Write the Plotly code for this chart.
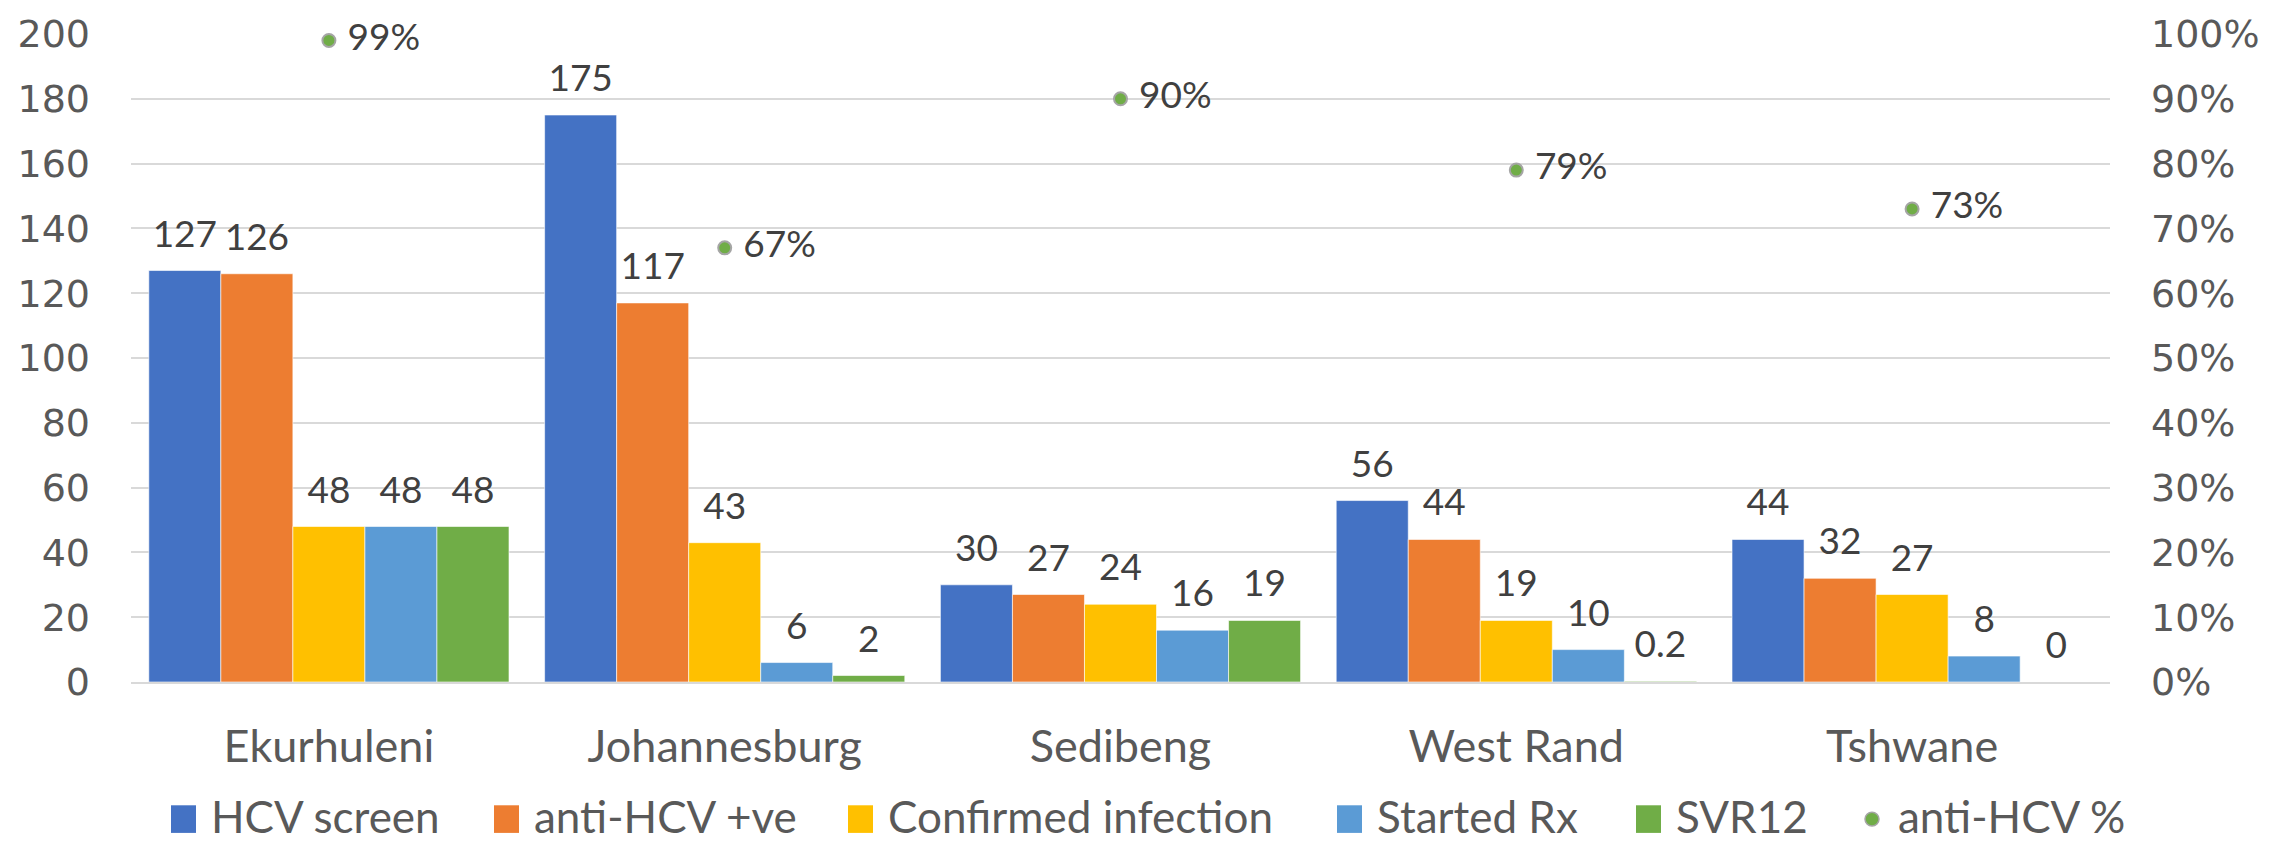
import plotly.graph_objects as go

# ---------------- data ----------------
categories = ["Ekurhuleni", "Johannesburg", "Sedibeng", "West Rand", "Tshwane"]
hcv_screen = [127, 175, 30, 56, 44]
anti_hcv_pos = [126, 117, 27, 44, 32]
confirmed_infection = [48, 43, 24, 19, 27]
started_rx = [48, 6, 16, 10, 8]
svr12 = [48, 2, 19, 0.2, 0]
anti_hcv_pct = [0.99, 0.67, 0.90, 0.79, 0.73]

bar_names = ["HCV screen", "anti-HCV +ve", "Confirmed infection", "Started Rx", "SVR12"]
pct_name = "anti-HCV %"
left_ticks = [0, 20, 40, 60, 80, 100, 120, 140, 160, 180, 200]
right_ticks = [0, 0.1, 0.2, 0.3, 0.4, 0.5, 0.6, 0.7, 0.8, 0.9, 1.0]

# ---------------- style ----------------
bar_series = [hcv_screen, anti_hcv_pos, confirmed_infection, started_rx, svr12]
bar_colors = ["#4472C4", "#ED7D31", "#FFC000", "#5B9BD5", "#70AD47"]
pct_color = "#70AD47"
W, H = 2290, 845
L, R, T, B = 131, 180, 25, 163
TEXT_FONT = "Lato, 'Open Sans', sans-serif"
TICK_FONT = "'DejaVu Sans', Verdana, sans-serif"
LABEL_GAP = 4  # spacing (axis units) between bar top and its data label

fig = go.Figure()
for i, (name, vals, col) in enumerate(zip(bar_names, bar_series, bar_colors)):
    fig.add_trace(go.Bar(
        x=categories, y=vals, name=name, offsetgroup=str(i),
        marker=dict(color=col, line=dict(color="rgba(255,255,255,0.6)", width=1)),
        showlegend=False,
    ))
    # transparent spacer carrying the data label a little above the bar
    fig.add_trace(go.Bar(
        x=categories, y=[LABEL_GAP] * len(vals), base=vals, name=name,
        offsetgroup=str(i), marker=dict(color="rgba(0,0,0,0)", line=dict(width=0)),
        text=[str(v) for v in vals], textposition="outside",
        textfont=dict(family=TEXT_FONT, size=37, color="#404040"),
        constraintext="none", cliponaxis=False, showlegend=False, hoverinfo="skip",
    ))

fig.add_trace(go.Scatter(
    x=categories, y=anti_hcv_pct, name=pct_name, yaxis="y2",
    mode="markers+text",
    marker=dict(color=pct_color, size=13, line=dict(color="#A5A5A5", width=2)),
    texttemplate=" %{y:.0%}", textposition="middle right",
    textfont=dict(family=TEXT_FONT, size=37, color="#404040"),
    cliponaxis=False, showlegend=False,
))

fig.update_layout(
    width=W, height=H,
    margin=dict(l=L, r=R, t=T, b=B),
    paper_bgcolor="white", plot_bgcolor="white",
    barmode="group", bargap=0.09, bargroupgap=0,
    showlegend=False,
    xaxis=dict(
        type="category", showgrid=False, showline=True,
        linecolor="#D9D9D9", linewidth=2,
        tickfont=dict(family=TEXT_FONT, size=45, color="#595959"),
        ticks="", ticklabelstandoff=24,
    ),
    yaxis=dict(
        range=[0, 200], tickvals=left_ticks, showgrid=True,
        gridcolor="#D9D9D9", gridwidth=2, zeroline=False, showline=False,
        tickfont=dict(family=TICK_FONT, size=38, color="#595959"),
        ticks="", ticklabelstandoff=40,
    ),
    yaxis2=dict(
        range=[0, 1], tickvals=right_ticks, tickformat=".0%",
        overlaying="y", side="right", showgrid=False, zeroline=False,
        showline=False,
        tickfont=dict(family=TICK_FONT, size=38, color="#595959"),
        ticks="", ticklabelstandoff=40,
    ),
)

# ---------------- custom legend (Excel style) ----------------
pw = W - L - R
ph = H - T - B


def px_x(px):
    return (px - L) / pw


def px_y(py):
    return (H - B - py) / ph


leg_y = 818
swatch_left = [171, 494, 848, 1337, 1636]
sw, sh = 25, 28
for name, col, sx in zip(bar_names, bar_colors, swatch_left):
    fig.add_shape(type="rect", xref="paper", yref="paper",
                  x0=px_x(sx), x1=px_x(sx + sw),
                  y0=px_y(leg_y + 3 + sh / 2), y1=px_y(leg_y + 3 - sh / 2),
                  fillcolor=col, line=dict(width=0))
    fig.add_annotation(xref="paper", yref="paper", x=px_x(sx + sw + 13), y=px_y(leg_y),
                       text=name, showarrow=False, xanchor="left", yanchor="middle",
                       font=dict(family=TEXT_FONT, size=44, color="#595959"))
mx = 1872
fig.add_shape(type="circle", xref="paper", yref="paper",
              x0=px_x(mx - 7), x1=px_x(mx + 7),
              y0=px_y(leg_y + 3 + 7), y1=px_y(leg_y + 3 - 7),
              fillcolor=pct_color, line=dict(color="#A5A5A5", width=1.5))
fig.add_annotation(xref="paper", yref="paper", x=px_x(mx + 24), y=px_y(leg_y),
                   text=pct_name, showarrow=False, xanchor="left", yanchor="middle",
                   font=dict(family=TEXT_FONT, size=44, color="#595959"))

fig.write_html("out.html", config={"displayModeBar": False},
               post_script="document.body.style.margin='0px';")
